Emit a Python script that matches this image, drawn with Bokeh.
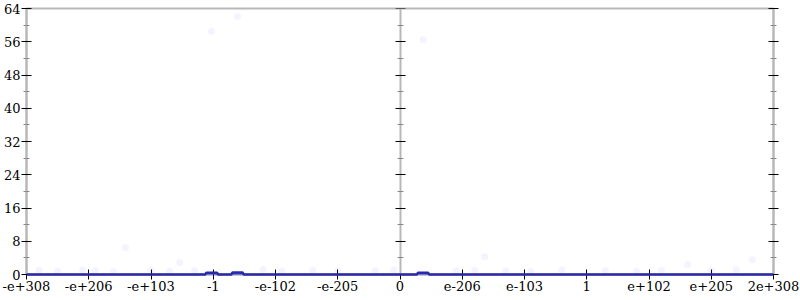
from bokeh.plotting import figure
from bokeh.models import LinearAxis, FixedTicker, Range1d
from bokeh.embed import file_html
from bokeh.resources import INLINE

# x positions are in "tick units" of the bit-ordered float axis (-6 .. 6)
x_ticks = [-6, -5, -4, -3, -2, -1, 0, 1, 2, 3, 4, 5, 6]
x_tick_labels = ["-e+308", "-e+206", "-e+103", "-1", "-e-102", "-e-205", "0",
                 "e-206", "e-103", "1", "e+102", "e+205", "2e+308"]
y_ticks = [0, 8, 16, 24, 32, 40, 48, 56, 64]
y_minor = [4, 12, 20, 28, 36, 44, 52, 60]

# density line (mostly zero, small bumps)
line_x = [-6, -3.13, -3.11, -2.94, -2.92, -2.71, -2.69, -2.53, -2.51,
          0.27, 0.29, 0.45, 0.47, 6]
line_y = [0, 0, 0.45, 0.45, 0, 0, 0.5, 0.5, 0, 0, 0.45, 0.45, 0, 0]

# faint scatter of samples
pts_x = [-4.41, -3.54, 1.36, 4.62, 5.66, 0.37, -2.61, -3.03,
         -5.8, -5.5, -5.1, -4.9, -4.6, -4.0, -3.7, -3.3, -2.2, -1.9, -1.4, -1.0,
         -0.4, -0.1, 0.9, 1.2, 1.7, 2.1, 2.6, 3.3, 3.8, 4.2, 5.0, 5.4]
pts_y = [6.5, 2.9, 4.3, 2.4, 3.6, 56.5, 62.1, 58.5,
         1.0, 0.8, 1.1, 0.9, 0.7, 1.0, 0.8, 0.9, 1.2, 0.8, 1.0, 0.7,
         0.9, 1.1, 0.8, 1.0, 0.9, 0.7, 1.1, 0.9, 0.8, 1.0, 0.9, 1.2]

FONT = "DejaVu Serif"
GRAY = "#b8b8b8"

p = figure(width=800, height=300, output_backend="svg", toolbar_location=None,
           x_range=Range1d(-6, 6), y_range=Range1d(0, 64),
           x_axis_location=None, y_axis_location=None,
           min_border_left=24, min_border_right=27, min_border_top=8, min_border_bottom=26)
p.xgrid.visible = False
p.ygrid.visible = False
p.outline_line_color = GRAY
p.outline_line_width = 2
p.background_fill_color = "white"
p.border_fill_color = "white"

def style_y(ax, labels=True):
    ax.ticker = FixedTicker(ticks=y_ticks, minor_ticks=y_minor)
    ax.axis_line_color = GRAY
    ax.axis_line_width = 2
    ax.major_tick_line_color = "black"
    ax.major_tick_in = 5
    ax.major_tick_out = 5
    ax.minor_tick_line_color = "#8a8a8a"
    ax.minor_tick_in = 3
    ax.minor_tick_out = 3
    ax.major_label_text_font = FONT
    ax.major_label_text_font_size = "13px"
    ax.major_label_text_color = "black"
    ax.major_label_standoff = 1
    if not labels:
        ax.major_label_text_color = None
        ax.major_label_text_font_size = "1px"
        ax.major_label_standoff = 0

left = LinearAxis()
style_y(left)
p.add_layout(left, "left")

right = LinearAxis()
style_y(right, labels=False)
p.add_layout(right, "right")

mid = LinearAxis(fixed_location=0)
style_y(mid, labels=False)
p.add_layout(mid, "right")

bottom = LinearAxis()
bottom.ticker = FixedTicker(ticks=x_ticks, minor_ticks=[])
bottom.major_label_overrides = {t: s for t, s in zip(x_ticks, x_tick_labels)}
bottom.axis_line_color = GRAY
bottom.axis_line_width = 2
bottom.major_tick_line_color = "black"
bottom.major_tick_in = 5
bottom.major_tick_out = 5
bottom.major_label_text_font = FONT
bottom.major_label_text_font_size = "13px"
bottom.major_label_text_color = "black"
bottom.major_label_standoff = 1
p.add_layout(bottom, "below")

p.scatter(pts_x, pts_y, size=7, color="#4040ff", alpha=0.06, line_alpha=0)
p.varea(x=line_x, y1=[0] * len(line_x), y2=line_y, fill_color="#3a3af5", level="overlay")
p.line(line_x, line_y, line_color="#2a2aa8", line_width=2.5, level="overlay")

open("out.html", "w").write(file_html(p, INLINE))
